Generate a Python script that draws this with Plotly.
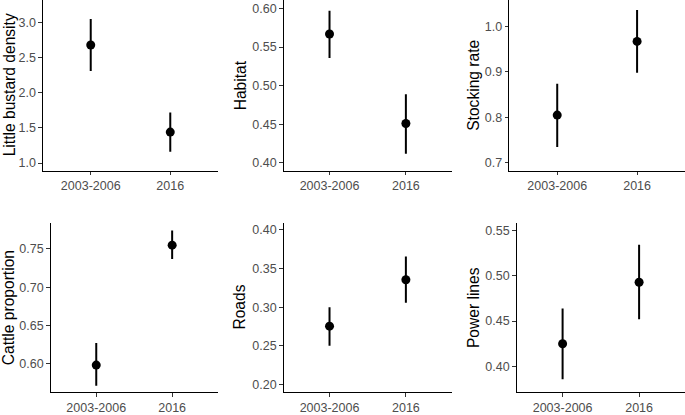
import plotly.graph_objects as go
from plotly.subplots import make_subplots

categories = ["2003-2006", "2016"]

titles = ["Little bustard density", "Habitat", "Stocking rate",
          "Cattle proportion", "Roads", "Power lines"]

density_mean = [2.68, 1.44]
density_lo = [2.31, 1.16]
density_hi = [3.05, 1.72]

habitat_mean = [0.567, 0.451]
habitat_lo = [0.536, 0.412]
habitat_hi = [0.597, 0.489]

stocking_mean = [0.805, 0.967]
stocking_lo = [0.735, 0.898]
stocking_hi = [0.874, 1.036]

cattle_mean = [0.598, 0.755]
cattle_lo = [0.571, 0.737]
cattle_hi = [0.627, 0.774]

roads_mean = [0.2755, 0.3356]
roads_lo = [0.250, 0.3057]
roads_hi = [0.300, 0.3655]

power_mean = [0.425, 0.4927]
power_lo = [0.386, 0.452]
power_hi = [0.4638, 0.534]

tick_density = [1.0, 1.5, 2.0, 2.5, 3.0]
tick_habitat = [0.40, 0.45, 0.50, 0.55, 0.60]
tick_stocking = [0.7, 0.8, 0.9, 1.0]
tick_cattle = [0.60, 0.65, 0.70, 0.75]
tick_roads = [0.20, 0.25, 0.30, 0.35, 0.40]
tick_power = [0.40, 0.45, 0.50, 0.55]

series = [
    (density_mean, density_lo, density_hi, tick_density, ".1f", [0.892, 3.32]),
    (habitat_mean, habitat_lo, habitat_hi, tick_habitat, ".2f", [0.390, 0.611]),
    (stocking_mean, stocking_lo, stocking_hi, tick_stocking, ".1f", [0.683, 1.058]),
    (cattle_mean, cattle_lo, cattle_hi, tick_cattle, ".2f", [0.5625, 0.784]),
    (roads_mean, roads_lo, roads_hi, tick_roads, ".2f", [0.190, 0.409]),
    (power_mean, power_lo, power_hi, tick_power, ".2f", [0.3717, 0.558]),
]

W, H = 685, 415
# pixel layout of panels (left, right, top, bottom)
panels_px = [
    (43, 218, 0, 172.7),
    (283.7, 451.7, 0, 172.7),
    (509.3, 685, 0, 172.7),
    (50.7, 217.7, 225.7, 397),
    (283.7, 451.7, 225.7, 397),
    (516.7, 685, 225.7, 397),
]
title_x_px = [9, 240, 473.5, 8.7, 240, 473.5]

fig = make_subplots(rows=2, cols=3)
FONT = "Arial, Liberation Sans, sans-serif"

for i, (m, lo, hi, tv, fmt, rng) in enumerate(series):
    r, c = i // 3 + 1, i % 3 + 1
    plus = [h - v for h, v in zip(hi, m)]
    minus = [v - l for v, l in zip(m, lo)]
    fig.add_trace(go.Scatter(
        x=categories, y=m, mode="markers",
        marker=dict(color="black", size=9),
        error_y=dict(type="data", symmetric=False, array=plus, arrayminus=minus,
                     color="black", thickness=2, width=0),
        showlegend=False), row=r, col=c)
    L, R, T, B = panels_px[i]
    xa = "xaxis" if i == 0 else f"xaxis{i+1}"
    ya = "yaxis" if i == 0 else f"yaxis{i+1}"
    fig.layout[xa].update(
        domain=[L / W, R / W], type="category", range=[-0.6, 1.6],
        showline=True, linecolor="black", linewidth=1.1, showgrid=False, zeroline=False,
        ticks="outside", ticklen=3.5, tickcolor="#333333", tickwidth=1,
        tickfont=dict(family=FONT, size=12.5, color="#4D4D4D"))
    fig.layout[ya].update(
        domain=[1 - B / H, 1 - T / H], range=rng, tickvals=tv, tickformat=fmt,
        showline=True, linecolor="black", linewidth=1.1, showgrid=False, zeroline=False,
        ticks="outside", ticklen=3.5, tickcolor="#333333", tickwidth=1,
        tickfont=dict(family=FONT, size=12.5, color="#4D4D4D"))
    fig.add_annotation(
        x=title_x_px[i] / W, y=1 - (T + B) / 2 / H, xref="paper", yref="paper",
        text=titles[i], textangle=-90, showarrow=False,
        xanchor="center", yanchor="middle",
        font=dict(family=FONT, size=15.6, color="black"))

fig.update_layout(
    width=W, height=H, margin=dict(l=0, r=0, t=0, b=0),
    paper_bgcolor="white", plot_bgcolor="white")

fig.write_html("out.html", config={"displayModeBar": False},
               post_script="document.body.style.margin='0';")
